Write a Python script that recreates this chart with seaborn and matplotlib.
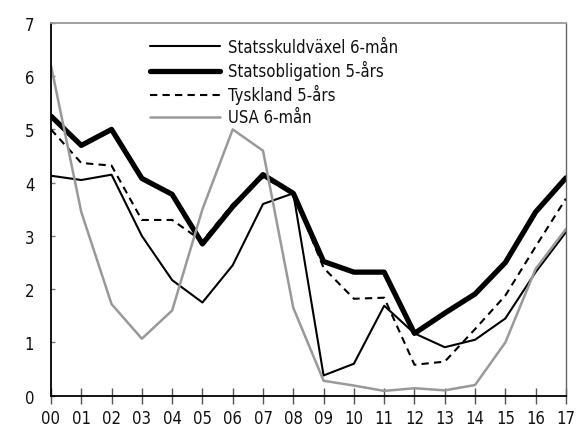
# Räntor: Sverige, Tyskland och USA 2000-2017
import numpy as np
import pandas as pd
import matplotlib
matplotlib.use("Agg")
import matplotlib.pyplot as plt
import seaborn as sns

# Data (procent)
years = ["00", "01", "02", "03", "04", "05", "06", "07", "08",
         "09", "10", "11", "12", "13", "14", "15", "16", "17"]
statsskuldvaxel = [4.13, 4.05, 4.15, 3.0, 2.17, 1.75, 2.45, 3.6, 3.8,
                   0.38, 0.6, 1.69, 1.17, 0.91, 1.05, 1.45, 2.32, 3.07]
statsobligation = [5.25, 4.7, 5.0, 4.08, 3.78, 2.85, 3.55, 4.15, 3.8,
                   2.52, 2.32, 2.32, 1.17, 1.55, 1.91, 2.5, 3.45, 4.09]
tyskland = [5.0, 4.37, 4.32, 3.3, 3.3, 2.9, 3.6, 4.1, 3.8,
            2.4, 1.82, 1.84, 0.58, 0.64, 1.25, 1.88, 2.8, 3.7]
usa = [6.2, 3.45, 1.72, 1.07, 1.6, 3.5, 5.0, 4.6, 1.65,
       0.28, 0.19, 0.09, 0.14, 0.1, 0.2, 1.0, 2.38, 3.13]

x = np.arange(len(years))

sns.set_style("white")
plt.rcParams['font.family'] = ['DejaVu Sans']
plt.rcParams['font.stretch'] = 'condensed'
plt.rcParams['text.color'] = '#111111'

fig = plt.figure(figsize=(5.76, 4.27), dpi=100)
ax = fig.add_axes([0.0885, 0.071, 0.894, 0.873])

sns.lineplot(x=x, y=statsskuldvaxel, ax=ax, color="black", linewidth=1.5,
             label="Statsskuldväxel 6-mån")
sns.lineplot(x=x, y=statsobligation, ax=ax, color="black", linewidth=3.8,
             label="Statsobligation 5-års")
sns.lineplot(x=x, y=tyskland, ax=ax, color="black", linewidth=1.5,
             linestyle=(0, (3.5, 2.5)), label="Tyskland 5-års")
sns.lineplot(x=x, y=usa, ax=ax, color="#999999", linewidth=1.8,
             label="USA 6-mån")

ax.set_xlim(0, 17)
ax.set_ylim(0, 7)
ax.set_xticks(x)
ax.set_xticklabels(years)
ax.set_yticks(range(0, 8))

ax.tick_params(axis="x", direction="inout", length=12, width=1,
               color="#555555", labelsize=12, pad=3.5, labelcolor="#111111")
ax.tick_params(axis="y", direction="in", length=3, width=1,
               color="#777777", labelsize=12, pad=12, labelcolor="#111111")
ax.xaxis.set_ticks_position("bottom")
ax.yaxis.set_ticks_position("left")

for side in ["left", "bottom"]:
    ax.spines[side].set_color("black")
    ax.spines[side].set_linewidth(1.3)
ax.spines["top"].set_color("#999999")
ax.spines["top"].set_linewidth(1.3)
ax.spines["right"].set_color("#666666")
ax.spines["right"].set_linewidth(1.0)

leg = ax.legend(loc="upper left", bbox_to_anchor=(0.17, 0.99), frameon=False,
                fontsize=12, handlelength=4.2, handletextpad=0.45,
                labelspacing=0.24, borderaxespad=0.3)

plt.savefig("out.png", dpi=100)
